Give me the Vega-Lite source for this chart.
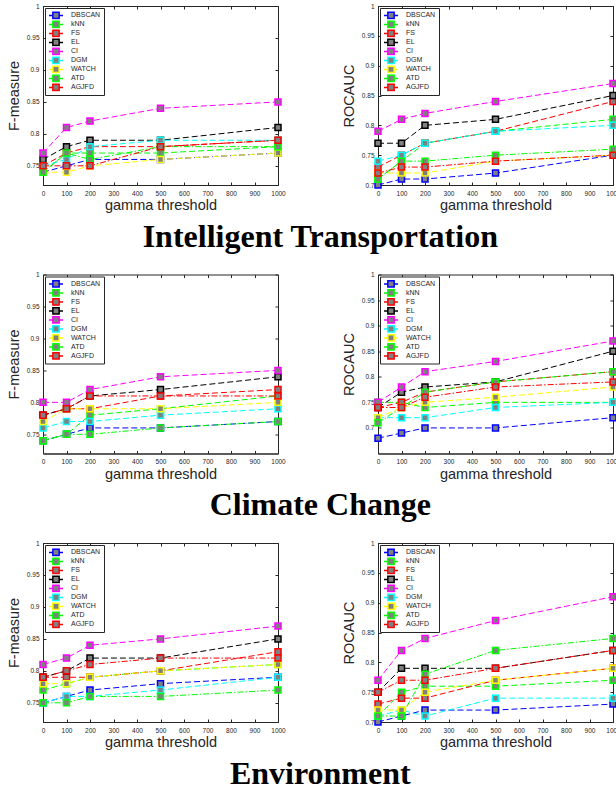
{
"$schema":"https://vega.github.io/schema/vega-lite/v6.json",
"padding":{"left":5,"top":2,"right":0,"bottom":0},
"background":"white",
"config":{
 "view":{"stroke":"#262626","strokeWidth":1},
 "axis":{"labelFont":"Liberation Sans","labelFontSize":6.5,"labelColor":"#262626","titleFont":"Liberation Sans","titleFontSize":14.5,"titleFontWeight":"normal","titleColor":"#262626","domainColor":"#262626","tickColor":"#262626","tickSize":-3,"grid":false,"labelFlush":false,"labelOverlap":false},
 "legend":{"labelFont":"Liberation Sans","labelFontSize":7,"labelColor":"#262626","labelOffset":7,"strokeColor":"#262626","fillColor":"white","padding":3,"rowPadding":0,"clipHeight":8.8}
},
"datasets":{"d":[
{"p":1,"s":"DBSCAN","x":0,"y":0.74},{"p":1,"s":"DBSCAN","x":100,"y":0.75},{"p":1,"s":"DBSCAN","x":200,"y":0.76},{"p":1,"s":"DBSCAN","x":500,"y":0.76},{"p":1,"s":"DBSCAN","x":1000,"y":0.77},
{"p":1,"s":"kNN","x":0,"y":0.74},{"p":1,"s":"kNN","x":100,"y":0.77},{"p":1,"s":"kNN","x":200,"y":0.77},{"p":1,"s":"kNN","x":500,"y":0.77},{"p":1,"s":"kNN","x":1000,"y":0.78},
{"p":1,"s":"FS","x":0,"y":0.75},{"p":1,"s":"FS","x":100,"y":0.77},{"p":1,"s":"FS","x":200,"y":0.78},{"p":1,"s":"FS","x":500,"y":0.78},{"p":1,"s":"FS","x":1000,"y":0.79},
{"p":1,"s":"EL","x":0,"y":0.76},{"p":1,"s":"EL","x":100,"y":0.78},{"p":1,"s":"EL","x":200,"y":0.79},{"p":1,"s":"EL","x":500,"y":0.79},{"p":1,"s":"EL","x":1000,"y":0.81},
{"p":1,"s":"CI","x":0,"y":0.77},{"p":1,"s":"CI","x":100,"y":0.81},{"p":1,"s":"CI","x":200,"y":0.82},{"p":1,"s":"CI","x":500,"y":0.84},{"p":1,"s":"CI","x":1000,"y":0.85},
{"p":1,"s":"DGM","x":0,"y":0.75},{"p":1,"s":"DGM","x":100,"y":0.76},{"p":1,"s":"DGM","x":200,"y":0.78},{"p":1,"s":"DGM","x":500,"y":0.79},{"p":1,"s":"DGM","x":1000,"y":0.79},
{"p":1,"s":"WATCH","x":0,"y":0.74},{"p":1,"s":"WATCH","x":100,"y":0.74},{"p":1,"s":"WATCH","x":200,"y":0.75},{"p":1,"s":"WATCH","x":500,"y":0.76},{"p":1,"s":"WATCH","x":1000,"y":0.77},
{"p":1,"s":"ATD","x":0,"y":0.74},{"p":1,"s":"ATD","x":100,"y":0.77},{"p":1,"s":"ATD","x":200,"y":0.76},{"p":1,"s":"ATD","x":500,"y":0.78},{"p":1,"s":"ATD","x":1000,"y":0.78},
{"p":1,"s":"AGJFD","x":0,"y":0.75},{"p":1,"s":"AGJFD","x":100,"y":0.75},{"p":1,"s":"AGJFD","x":200,"y":0.75},{"p":1,"s":"AGJFD","x":500,"y":0.78},{"p":1,"s":"AGJFD","x":1000,"y":0.79},
{"p":2,"s":"DBSCAN","x":0,"y":0.70},{"p":2,"s":"DBSCAN","x":100,"y":0.71},{"p":2,"s":"DBSCAN","x":200,"y":0.71},{"p":2,"s":"DBSCAN","x":500,"y":0.72},{"p":2,"s":"DBSCAN","x":1000,"y":0.75},
{"p":2,"s":"kNN","x":0,"y":0.71},{"p":2,"s":"kNN","x":100,"y":0.74},{"p":2,"s":"kNN","x":200,"y":0.77},{"p":2,"s":"kNN","x":500,"y":0.79},{"p":2,"s":"kNN","x":1000,"y":0.81},
{"p":2,"s":"FS","x":0,"y":0.73},{"p":2,"s":"FS","x":100,"y":0.75},{"p":2,"s":"FS","x":200,"y":0.77},{"p":2,"s":"FS","x":500,"y":0.79},{"p":2,"s":"FS","x":1000,"y":0.84},
{"p":2,"s":"EL","x":0,"y":0.77},{"p":2,"s":"EL","x":100,"y":0.77},{"p":2,"s":"EL","x":200,"y":0.80},{"p":2,"s":"EL","x":500,"y":0.81},{"p":2,"s":"EL","x":1000,"y":0.85},
{"p":2,"s":"CI","x":0,"y":0.79},{"p":2,"s":"CI","x":100,"y":0.81},{"p":2,"s":"CI","x":200,"y":0.82},{"p":2,"s":"CI","x":500,"y":0.84},{"p":2,"s":"CI","x":1000,"y":0.87},
{"p":2,"s":"DGM","x":0,"y":0.74},{"p":2,"s":"DGM","x":100,"y":0.75},{"p":2,"s":"DGM","x":200,"y":0.77},{"p":2,"s":"DGM","x":500,"y":0.79},{"p":2,"s":"DGM","x":1000,"y":0.80},
{"p":2,"s":"WATCH","x":0,"y":0.72},{"p":2,"s":"WATCH","x":100,"y":0.72},{"p":2,"s":"WATCH","x":200,"y":0.72},{"p":2,"s":"WATCH","x":500,"y":0.74},{"p":2,"s":"WATCH","x":1000,"y":0.75},
{"p":2,"s":"ATD","x":0,"y":0.71},{"p":2,"s":"ATD","x":100,"y":0.74},{"p":2,"s":"ATD","x":200,"y":0.74},{"p":2,"s":"ATD","x":500,"y":0.75},{"p":2,"s":"ATD","x":1000,"y":0.76},
{"p":2,"s":"AGJFD","x":0,"y":0.72},{"p":2,"s":"AGJFD","x":100,"y":0.73},{"p":2,"s":"AGJFD","x":200,"y":0.73},{"p":2,"s":"AGJFD","x":500,"y":0.74},{"p":2,"s":"AGJFD","x":1000,"y":0.75},
{"p":3,"s":"DBSCAN","x":0,"y":0.74},{"p":3,"s":"DBSCAN","x":100,"y":0.75},{"p":3,"s":"DBSCAN","x":200,"y":0.76},{"p":3,"s":"DBSCAN","x":500,"y":0.76},{"p":3,"s":"DBSCAN","x":1000,"y":0.77},
{"p":3,"s":"kNN","x":0,"y":0.74},{"p":3,"s":"kNN","x":100,"y":0.75},{"p":3,"s":"kNN","x":200,"y":0.78},{"p":3,"s":"kNN","x":500,"y":0.79},{"p":3,"s":"kNN","x":1000,"y":0.81},
{"p":3,"s":"FS","x":0,"y":0.78},{"p":3,"s":"FS","x":100,"y":0.79},{"p":3,"s":"FS","x":200,"y":0.79},{"p":3,"s":"FS","x":500,"y":0.81},{"p":3,"s":"FS","x":1000,"y":0.82},
{"p":3,"s":"EL","x":0,"y":0.78},{"p":3,"s":"EL","x":100,"y":0.79},{"p":3,"s":"EL","x":200,"y":0.81},{"p":3,"s":"EL","x":500,"y":0.82},{"p":3,"s":"EL","x":1000,"y":0.84},
{"p":3,"s":"CI","x":0,"y":0.80},{"p":3,"s":"CI","x":100,"y":0.80},{"p":3,"s":"CI","x":200,"y":0.82},{"p":3,"s":"CI","x":500,"y":0.84},{"p":3,"s":"CI","x":1000,"y":0.85},
{"p":3,"s":"DGM","x":0,"y":0.76},{"p":3,"s":"DGM","x":100,"y":0.77},{"p":3,"s":"DGM","x":200,"y":0.77},{"p":3,"s":"DGM","x":500,"y":0.78},{"p":3,"s":"DGM","x":1000,"y":0.79},
{"p":3,"s":"WATCH","x":0,"y":0.77},{"p":3,"s":"WATCH","x":100,"y":0.79},{"p":3,"s":"WATCH","x":200,"y":0.79},{"p":3,"s":"WATCH","x":500,"y":0.79},{"p":3,"s":"WATCH","x":1000,"y":0.80},
{"p":3,"s":"ATD","x":0,"y":0.74},{"p":3,"s":"ATD","x":100,"y":0.75},{"p":3,"s":"ATD","x":200,"y":0.75},{"p":3,"s":"ATD","x":500,"y":0.76},{"p":3,"s":"ATD","x":1000,"y":0.77},
{"p":3,"s":"AGJFD","x":0,"y":0.78},{"p":3,"s":"AGJFD","x":100,"y":0.79},{"p":3,"s":"AGJFD","x":200,"y":0.81},{"p":3,"s":"AGJFD","x":500,"y":0.81},{"p":3,"s":"AGJFD","x":1000,"y":0.81},
{"p":4,"s":"DBSCAN","x":0,"y":0.68},{"p":4,"s":"DBSCAN","x":100,"y":0.69},{"p":4,"s":"DBSCAN","x":200,"y":0.70},{"p":4,"s":"DBSCAN","x":500,"y":0.70},{"p":4,"s":"DBSCAN","x":1000,"y":0.72},
{"p":4,"s":"kNN","x":0,"y":0.75},{"p":4,"s":"kNN","x":100,"y":0.75},{"p":4,"s":"kNN","x":200,"y":0.74},{"p":4,"s":"kNN","x":500,"y":0.75},{"p":4,"s":"kNN","x":1000,"y":0.75},
{"p":4,"s":"FS","x":0,"y":0.74},{"p":4,"s":"FS","x":100,"y":0.75},{"p":4,"s":"FS","x":200,"y":0.77},{"p":4,"s":"FS","x":500,"y":0.79},{"p":4,"s":"FS","x":1000,"y":0.81},
{"p":4,"s":"EL","x":0,"y":0.74},{"p":4,"s":"EL","x":100,"y":0.77},{"p":4,"s":"EL","x":200,"y":0.78},{"p":4,"s":"EL","x":500,"y":0.79},{"p":4,"s":"EL","x":1000,"y":0.85},
{"p":4,"s":"CI","x":0,"y":0.75},{"p":4,"s":"CI","x":100,"y":0.78},{"p":4,"s":"CI","x":200,"y":0.81},{"p":4,"s":"CI","x":500,"y":0.83},{"p":4,"s":"CI","x":1000,"y":0.87},
{"p":4,"s":"DGM","x":0,"y":0.72},{"p":4,"s":"DGM","x":100,"y":0.72},{"p":4,"s":"DGM","x":200,"y":0.72},{"p":4,"s":"DGM","x":500,"y":0.74},{"p":4,"s":"DGM","x":1000,"y":0.75},
{"p":4,"s":"WATCH","x":0,"y":0.72},{"p":4,"s":"WATCH","x":100,"y":0.74},{"p":4,"s":"WATCH","x":200,"y":0.75},{"p":4,"s":"WATCH","x":500,"y":0.76},{"p":4,"s":"WATCH","x":1000,"y":0.78},
{"p":4,"s":"ATD","x":0,"y":0.71},{"p":4,"s":"ATD","x":100,"y":0.74},{"p":4,"s":"ATD","x":200,"y":0.77},{"p":4,"s":"ATD","x":500,"y":0.79},{"p":4,"s":"ATD","x":1000,"y":0.81},
{"p":4,"s":"AGJFD","x":0,"y":0.74},{"p":4,"s":"AGJFD","x":100,"y":0.74},{"p":4,"s":"AGJFD","x":200,"y":0.76},{"p":4,"s":"AGJFD","x":500,"y":0.78},{"p":4,"s":"AGJFD","x":1000,"y":0.79},
{"p":5,"s":"DBSCAN","x":0,"y":0.75},{"p":5,"s":"DBSCAN","x":100,"y":0.76},{"p":5,"s":"DBSCAN","x":200,"y":0.77},{"p":5,"s":"DBSCAN","x":500,"y":0.78},{"p":5,"s":"DBSCAN","x":1000,"y":0.79},
{"p":5,"s":"kNN","x":0,"y":0.77},{"p":5,"s":"kNN","x":100,"y":0.78},{"p":5,"s":"kNN","x":200,"y":0.79},{"p":5,"s":"kNN","x":500,"y":0.80},{"p":5,"s":"kNN","x":1000,"y":0.81},
{"p":5,"s":"FS","x":0,"y":0.79},{"p":5,"s":"FS","x":100,"y":0.79},{"p":5,"s":"FS","x":200,"y":0.79},{"p":5,"s":"FS","x":500,"y":0.80},{"p":5,"s":"FS","x":1000,"y":0.83},
{"p":5,"s":"EL","x":0,"y":0.79},{"p":5,"s":"EL","x":100,"y":0.80},{"p":5,"s":"EL","x":200,"y":0.82},{"p":5,"s":"EL","x":500,"y":0.82},{"p":5,"s":"EL","x":1000,"y":0.85},
{"p":5,"s":"CI","x":0,"y":0.81},{"p":5,"s":"CI","x":100,"y":0.82},{"p":5,"s":"CI","x":200,"y":0.84},{"p":5,"s":"CI","x":500,"y":0.85},{"p":5,"s":"CI","x":1000,"y":0.87},
{"p":5,"s":"DGM","x":0,"y":0.75},{"p":5,"s":"DGM","x":100,"y":0.76},{"p":5,"s":"DGM","x":200,"y":0.76},{"p":5,"s":"DGM","x":500,"y":0.77},{"p":5,"s":"DGM","x":1000,"y":0.79},
{"p":5,"s":"WATCH","x":0,"y":0.78},{"p":5,"s":"WATCH","x":100,"y":0.78},{"p":5,"s":"WATCH","x":200,"y":0.79},{"p":5,"s":"WATCH","x":500,"y":0.80},{"p":5,"s":"WATCH","x":1000,"y":0.81},
{"p":5,"s":"ATD","x":0,"y":0.75},{"p":5,"s":"ATD","x":100,"y":0.75},{"p":5,"s":"ATD","x":200,"y":0.76},{"p":5,"s":"ATD","x":500,"y":0.76},{"p":5,"s":"ATD","x":1000,"y":0.77},
{"p":5,"s":"AGJFD","x":0,"y":0.79},{"p":5,"s":"AGJFD","x":100,"y":0.80},{"p":5,"s":"AGJFD","x":200,"y":0.81},{"p":5,"s":"AGJFD","x":500,"y":0.82},{"p":5,"s":"AGJFD","x":1000,"y":0.82},
{"p":6,"s":"DBSCAN","x":0,"y":0.70},{"p":6,"s":"DBSCAN","x":100,"y":0.71},{"p":6,"s":"DBSCAN","x":200,"y":0.72},{"p":6,"s":"DBSCAN","x":500,"y":0.72},{"p":6,"s":"DBSCAN","x":1000,"y":0.73},
{"p":6,"s":"kNN","x":0,"y":0.71},{"p":6,"s":"kNN","x":100,"y":0.75},{"p":6,"s":"kNN","x":200,"y":0.76},{"p":6,"s":"kNN","x":500,"y":0.76},{"p":6,"s":"kNN","x":1000,"y":0.77},
{"p":6,"s":"FS","x":0,"y":0.73},{"p":6,"s":"FS","x":100,"y":0.74},{"p":6,"s":"FS","x":200,"y":0.74},{"p":6,"s":"FS","x":500,"y":0.77},{"p":6,"s":"FS","x":1000,"y":0.79},
{"p":6,"s":"EL","x":0,"y":0.75},{"p":6,"s":"EL","x":100,"y":0.79},{"p":6,"s":"EL","x":200,"y":0.79},{"p":6,"s":"EL","x":500,"y":0.79},{"p":6,"s":"EL","x":1000,"y":0.82},
{"p":6,"s":"CI","x":0,"y":0.77},{"p":6,"s":"CI","x":100,"y":0.82},{"p":6,"s":"CI","x":200,"y":0.84},{"p":6,"s":"CI","x":500,"y":0.87},{"p":6,"s":"CI","x":1000,"y":0.91},
{"p":6,"s":"DGM","x":0,"y":0.71},{"p":6,"s":"DGM","x":100,"y":0.72},{"p":6,"s":"DGM","x":200,"y":0.71},{"p":6,"s":"DGM","x":500,"y":0.74},{"p":6,"s":"DGM","x":1000,"y":0.74},
{"p":6,"s":"WATCH","x":0,"y":0.72},{"p":6,"s":"WATCH","x":100,"y":0.72},{"p":6,"s":"WATCH","x":200,"y":0.75},{"p":6,"s":"WATCH","x":500,"y":0.77},{"p":6,"s":"WATCH","x":1000,"y":0.79},
{"p":6,"s":"ATD","x":0,"y":0.71},{"p":6,"s":"ATD","x":100,"y":0.71},{"p":6,"s":"ATD","x":200,"y":0.78},{"p":6,"s":"ATD","x":500,"y":0.82},{"p":6,"s":"ATD","x":1000,"y":0.84},
{"p":6,"s":"AGJFD","x":0,"y":0.75},{"p":6,"s":"AGJFD","x":100,"y":0.77},{"p":6,"s":"AGJFD","x":200,"y":0.77},{"p":6,"s":"AGJFD","x":500,"y":0.79},{"p":6,"s":"AGJFD","x":1000,"y":0.82}
]},
"data":{"name":"d"},
"spacing":17.5,
"resolve":{"scale":{"stroke":"independent","color":"independent","strokeDash":"independent"},"legend":{"stroke":"independent","color":"independent","strokeDash":"independent"}},
"vconcat":[
{"title":{"text":"Intelligent Transportation","orient":"bottom","anchor":"middle","font":"Liberation Serif","fontSize":32,"fontWeight":"bold","color":"black","offset":9,"dx":7},
 "spacing":54,
 "resolve":{"scale":{"stroke":"independent","color":"independent","strokeDash":"independent"},"legend":{"stroke":"independent","color":"independent","strokeDash":"independent"}},
 "hconcat":[
 {"width":235,"height":179,"transform":[{"filter":"datum.p == 1"}],"resolve":{"axis":{"x":"independent","y":"independent"}},
  "layer":[
   {"mark":{"type":"line","strokeWidth":1},"encoding":{
     "x":{"field":"x","type":"quantitative","scale":{"domain":[0,1000]},"axis":{"values":[0,100,200,300,400,500,600,700,800,900,1000],"format":"d","title":"gamma threshold","labelPadding":8,"titlePadding":2}},
     "y":{"field":"y","type":"quantitative","scale":{"domain":[0.72,1]},"axis":{"values":[0.75,0.8,0.85,0.9,0.95,1],"format":"~g","title":"F-measure","labelPadding":7,"titlePadding":5}},
     "color":{"field":"s","type":"nominal","scale":{"domain":["AGJFD","ATD","WATCH","DGM","CI","EL","FS","kNN","DBSCAN"],"range":["#FF0000","#00FF00","#FFFF00","#00FFFF","#FF00FF","#000000","#FF0000","#00FF00","#0000FF"]},"legend":null},
     "strokeDash":{"field":"s","type":"nominal","scale":{"domain":["AGJFD","ATD","WATCH","DGM","CI","EL","FS","kNN","DBSCAN"],"range":[[6,2,1.5,2],[6,2,1.5,2],[6,3],[6,3],[6,3],[6,3],[6,3],[6,3],[6,3]]},"legend":null}}},
   {"mark":{"type":"point","shape":"square","filled":true,"fill":"#808080","size":36,"strokeWidth":1.5,"opacity":1},"encoding":{
     "x":{"field":"x","type":"quantitative","axis":{"orient":"top","values":[0,100,200,300,400,500,600,700,800,900,1000],"labels":false,"title":null,"domain":false}},
     "y":{"field":"y","type":"quantitative","axis":{"orient":"right","values":[0.75,0.8,0.85,0.9,0.95,1],"labels":false,"title":null,"domain":false}},
     "stroke":{"field":"s","type":"nominal","scale":{"domain":["DBSCAN","kNN","FS","EL","CI","DGM","WATCH","ATD","AGJFD"],"range":["#0000FF","#00FF00","#FF0000","#000000","#FF00FF","#00FFFF","#FFFF00","#00FF00","#FF0000"]},"legend":{"orient":"top-left","offset":2,"title":null,"symbolType":"M-1,0H-0.45M0.45,0H1M-0.45,-0.45H0.45V0.45H-0.45Z","symbolSize":196,"symbolStrokeWidth":1.5,"symbolFillColor":"#808080","symbolOpacity":1}}}}
  ]},
 {"width":235,"height":179,"transform":[{"filter":"datum.p == 2"}],"resolve":{"axis":{"x":"independent","y":"independent"}},
  "layer":[
   {"mark":{"type":"line","strokeWidth":1},"encoding":{
     "x":{"field":"x","type":"quantitative","scale":{"domain":[0,1000]},"axis":{"values":[0,100,200,300,400,500,600,700,800,900,1000],"format":"d","title":"gamma threshold","labelPadding":8,"titlePadding":2}},
     "y":{"field":"y","type":"quantitative","scale":{"domain":[0.7,1]},"axis":{"values":[0.7,0.75,0.8,0.85,0.9,0.95,1],"format":"~g","title":"ROCAUC","labelPadding":7,"titlePadding":5}},
     "color":{"field":"s","type":"nominal","scale":{"domain":["AGJFD","ATD","WATCH","DGM","CI","EL","FS","kNN","DBSCAN"],"range":["#FF0000","#00FF00","#FFFF00","#00FFFF","#FF00FF","#000000","#FF0000","#00FF00","#0000FF"]},"legend":null},
     "strokeDash":{"field":"s","type":"nominal","scale":{"domain":["AGJFD","ATD","WATCH","DGM","CI","EL","FS","kNN","DBSCAN"],"range":[[6,2,1.5,2],[6,2,1.5,2],[6,3],[6,3],[6,3],[6,3],[6,3],[6,3],[6,3]]},"legend":null}}},
   {"mark":{"type":"point","shape":"square","filled":true,"fill":"#808080","size":36,"strokeWidth":1.5,"opacity":1},"encoding":{
     "x":{"field":"x","type":"quantitative","axis":{"orient":"top","values":[0,100,200,300,400,500,600,700,800,900,1000],"labels":false,"title":null,"domain":false}},
     "y":{"field":"y","type":"quantitative","axis":{"orient":"right","values":[0.7,0.75,0.8,0.85,0.9,0.95,1],"labels":false,"title":null,"domain":false}},
     "stroke":{"field":"s","type":"nominal","scale":{"domain":["DBSCAN","kNN","FS","EL","CI","DGM","WATCH","ATD","AGJFD"],"range":["#0000FF","#00FF00","#FF0000","#000000","#FF00FF","#00FFFF","#FFFF00","#00FF00","#FF0000"]},"legend":{"orient":"top-left","offset":2,"title":null,"symbolType":"M-1,0H-0.45M0.45,0H1M-0.45,-0.45H0.45V0.45H-0.45Z","symbolSize":196,"symbolStrokeWidth":1.5,"symbolFillColor":"#808080","symbolOpacity":1}}}}
  ]}
 ]},
{"title":{"text":"Climate Change","orient":"bottom","anchor":"middle","font":"Liberation Serif","fontSize":32,"fontWeight":"bold","color":"black","offset":9,"dx":7},
 "spacing":54,
 "resolve":{"scale":{"stroke":"independent","color":"independent","strokeDash":"independent"},"legend":{"stroke":"independent","color":"independent","strokeDash":"independent"}},
 "hconcat":[
 {"width":235,"height":179,"transform":[{"filter":"datum.p == 3"}],"resolve":{"axis":{"x":"independent","y":"independent"}},
  "layer":[
   {"mark":{"type":"line","strokeWidth":1},"encoding":{
     "x":{"field":"x","type":"quantitative","scale":{"domain":[0,1000]},"axis":{"values":[0,100,200,300,400,500,600,700,800,900,1000],"format":"d","title":"gamma threshold","labelPadding":8,"titlePadding":2}},
     "y":{"field":"y","type":"quantitative","scale":{"domain":[0.73,1]},"axis":{"values":[0.75,0.8,0.85,0.9,0.95,1],"format":"~g","title":"F-measure","labelPadding":7,"titlePadding":5}},
     "color":{"field":"s","type":"nominal","scale":{"domain":["AGJFD","ATD","WATCH","DGM","CI","EL","FS","kNN","DBSCAN"],"range":["#FF0000","#00FF00","#FFFF00","#00FFFF","#FF00FF","#000000","#FF0000","#00FF00","#0000FF"]},"legend":null},
     "strokeDash":{"field":"s","type":"nominal","scale":{"domain":["AGJFD","ATD","WATCH","DGM","CI","EL","FS","kNN","DBSCAN"],"range":[[6,2,1.5,2],[6,2,1.5,2],[6,3],[6,3],[6,3],[6,3],[6,3],[6,3],[6,3]]},"legend":null}}},
   {"mark":{"type":"point","shape":"square","filled":true,"fill":"#808080","size":36,"strokeWidth":1.5,"opacity":1},"encoding":{
     "x":{"field":"x","type":"quantitative","axis":{"orient":"top","values":[0,100,200,300,400,500,600,700,800,900,1000],"labels":false,"title":null,"domain":false}},
     "y":{"field":"y","type":"quantitative","axis":{"orient":"right","values":[0.75,0.8,0.85,0.9,0.95,1],"labels":false,"title":null,"domain":false}},
     "stroke":{"field":"s","type":"nominal","scale":{"domain":["DBSCAN","kNN","FS","EL","CI","DGM","WATCH","ATD","AGJFD"],"range":["#0000FF","#00FF00","#FF0000","#000000","#FF00FF","#00FFFF","#FFFF00","#00FF00","#FF0000"]},"legend":{"orient":"top-left","offset":2,"title":null,"symbolType":"M-1,0H-0.45M0.45,0H1M-0.45,-0.45H0.45V0.45H-0.45Z","symbolSize":196,"symbolStrokeWidth":1.5,"symbolFillColor":"#808080","symbolOpacity":1}}}}
  ]},
 {"width":235,"height":179,"transform":[{"filter":"datum.p == 4"}],"resolve":{"axis":{"x":"independent","y":"independent"}},
  "layer":[
   {"mark":{"type":"line","strokeWidth":1},"encoding":{
     "x":{"field":"x","type":"quantitative","scale":{"domain":[0,1000]},"axis":{"values":[0,100,200,300,400,500,600,700,800,900,1000],"format":"d","title":"gamma threshold","labelPadding":8,"titlePadding":2}},
     "y":{"field":"y","type":"quantitative","scale":{"domain":[0.67,1]},"axis":{"values":[0.7,0.75,0.8,0.85,0.9,0.95,1],"format":"~g","title":"ROCAUC","labelPadding":7,"titlePadding":5}},
     "color":{"field":"s","type":"nominal","scale":{"domain":["AGJFD","ATD","WATCH","DGM","CI","EL","FS","kNN","DBSCAN"],"range":["#FF0000","#00FF00","#FFFF00","#00FFFF","#FF00FF","#000000","#FF0000","#00FF00","#0000FF"]},"legend":null},
     "strokeDash":{"field":"s","type":"nominal","scale":{"domain":["AGJFD","ATD","WATCH","DGM","CI","EL","FS","kNN","DBSCAN"],"range":[[6,2,1.5,2],[6,2,1.5,2],[6,3],[6,3],[6,3],[6,3],[6,3],[6,3],[6,3]]},"legend":null}}},
   {"mark":{"type":"point","shape":"square","filled":true,"fill":"#808080","size":36,"strokeWidth":1.5,"opacity":1},"encoding":{
     "x":{"field":"x","type":"quantitative","axis":{"orient":"top","values":[0,100,200,300,400,500,600,700,800,900,1000],"labels":false,"title":null,"domain":false}},
     "y":{"field":"y","type":"quantitative","axis":{"orient":"right","values":[0.7,0.75,0.8,0.85,0.9,0.95,1],"labels":false,"title":null,"domain":false}},
     "stroke":{"field":"s","type":"nominal","scale":{"domain":["DBSCAN","kNN","FS","EL","CI","DGM","WATCH","ATD","AGJFD"],"range":["#0000FF","#00FF00","#FF0000","#000000","#FF00FF","#00FFFF","#FFFF00","#00FF00","#FF0000"]},"legend":{"orient":"top-left","offset":2,"title":null,"symbolType":"M-1,0H-0.45M0.45,0H1M-0.45,-0.45H0.45V0.45H-0.45Z","symbolSize":196,"symbolStrokeWidth":1.5,"symbolFillColor":"#808080","symbolOpacity":1}}}}
  ]}
 ]},
{"title":{"text":"Environment","orient":"bottom","anchor":"middle","font":"Liberation Serif","fontSize":32,"fontWeight":"bold","color":"black","offset":9,"dx":7},
 "spacing":54,
 "resolve":{"scale":{"stroke":"independent","color":"independent","strokeDash":"independent"},"legend":{"stroke":"independent","color":"independent","strokeDash":"independent"}},
 "hconcat":[
 {"width":235,"height":179,"transform":[{"filter":"datum.p == 5"}],"resolve":{"axis":{"x":"independent","y":"independent"}},
  "layer":[
   {"mark":{"type":"line","strokeWidth":1},"encoding":{
     "x":{"field":"x","type":"quantitative","scale":{"domain":[0,1000]},"axis":{"values":[0,100,200,300,400,500,600,700,800,900,1000],"format":"d","title":"gamma threshold","labelPadding":8,"titlePadding":2}},
     "y":{"field":"y","type":"quantitative","scale":{"domain":[0.73,1]},"axis":{"values":[0.75,0.8,0.85,0.9,0.95,1],"format":"~g","title":"F-measure","labelPadding":7,"titlePadding":5}},
     "color":{"field":"s","type":"nominal","scale":{"domain":["AGJFD","ATD","WATCH","DGM","CI","EL","FS","kNN","DBSCAN"],"range":["#FF0000","#00FF00","#FFFF00","#00FFFF","#FF00FF","#000000","#FF0000","#00FF00","#0000FF"]},"legend":null},
     "strokeDash":{"field":"s","type":"nominal","scale":{"domain":["AGJFD","ATD","WATCH","DGM","CI","EL","FS","kNN","DBSCAN"],"range":[[6,2,1.5,2],[6,2,1.5,2],[6,3],[6,3],[6,3],[6,3],[6,3],[6,3],[6,3]]},"legend":null}}},
   {"mark":{"type":"point","shape":"square","filled":true,"fill":"#808080","size":36,"strokeWidth":1.5,"opacity":1},"encoding":{
     "x":{"field":"x","type":"quantitative","axis":{"orient":"top","values":[0,100,200,300,400,500,600,700,800,900,1000],"labels":false,"title":null,"domain":false}},
     "y":{"field":"y","type":"quantitative","axis":{"orient":"right","values":[0.75,0.8,0.85,0.9,0.95,1],"labels":false,"title":null,"domain":false}},
     "stroke":{"field":"s","type":"nominal","scale":{"domain":["DBSCAN","kNN","FS","EL","CI","DGM","WATCH","ATD","AGJFD"],"range":["#0000FF","#00FF00","#FF0000","#000000","#FF00FF","#00FFFF","#FFFF00","#00FF00","#FF0000"]},"legend":{"orient":"top-left","offset":2,"title":null,"symbolType":"M-1,0H-0.45M0.45,0H1M-0.45,-0.45H0.45V0.45H-0.45Z","symbolSize":196,"symbolStrokeWidth":1.5,"symbolFillColor":"#808080","symbolOpacity":1}}}}
  ]},
 {"width":235,"height":179,"transform":[{"filter":"datum.p == 6"}],"resolve":{"axis":{"x":"independent","y":"independent"}},
  "layer":[
   {"mark":{"type":"line","strokeWidth":1},"encoding":{
     "x":{"field":"x","type":"quantitative","scale":{"domain":[0,1000]},"axis":{"values":[0,100,200,300,400,500,600,700,800,900,1000],"format":"d","title":"gamma threshold","labelPadding":8,"titlePadding":2}},
     "y":{"field":"y","type":"quantitative","scale":{"domain":[0.7,1]},"axis":{"values":[0.7,0.75,0.8,0.85,0.9,0.95,1],"format":"~g","title":"ROCAUC","labelPadding":7,"titlePadding":5}},
     "color":{"field":"s","type":"nominal","scale":{"domain":["AGJFD","ATD","WATCH","DGM","CI","EL","FS","kNN","DBSCAN"],"range":["#FF0000","#00FF00","#FFFF00","#00FFFF","#FF00FF","#000000","#FF0000","#00FF00","#0000FF"]},"legend":null},
     "strokeDash":{"field":"s","type":"nominal","scale":{"domain":["AGJFD","ATD","WATCH","DGM","CI","EL","FS","kNN","DBSCAN"],"range":[[6,2,1.5,2],[6,2,1.5,2],[6,3],[6,3],[6,3],[6,3],[6,3],[6,3],[6,3]]},"legend":null}}},
   {"mark":{"type":"point","shape":"square","filled":true,"fill":"#808080","size":36,"strokeWidth":1.5,"opacity":1},"encoding":{
     "x":{"field":"x","type":"quantitative","axis":{"orient":"top","values":[0,100,200,300,400,500,600,700,800,900,1000],"labels":false,"title":null,"domain":false}},
     "y":{"field":"y","type":"quantitative","axis":{"orient":"right","values":[0.7,0.75,0.8,0.85,0.9,0.95,1],"labels":false,"title":null,"domain":false}},
     "stroke":{"field":"s","type":"nominal","scale":{"domain":["DBSCAN","kNN","FS","EL","CI","DGM","WATCH","ATD","AGJFD"],"range":["#0000FF","#00FF00","#FF0000","#000000","#FF00FF","#00FFFF","#FFFF00","#00FF00","#FF0000"]},"legend":{"orient":"top-left","offset":2,"title":null,"symbolType":"M-1,0H-0.45M0.45,0H1M-0.45,-0.45H0.45V0.45H-0.45Z","symbolSize":196,"symbolStrokeWidth":1.5,"symbolFillColor":"#808080","symbolOpacity":1}}}}
  ]}
 ]}
]
}
